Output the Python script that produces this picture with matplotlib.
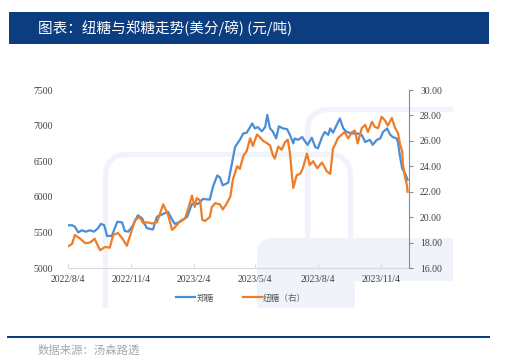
import matplotlib
matplotlib.use("Agg")
import matplotlib.pyplot as plt
from matplotlib.patches import Rectangle, FancyBboxPatch
from matplotlib.ticker import FormatStrFormatter
import pandas as pd

# ---------------- data ----------------
start_date = "2022-08-04"
zheng_days = [0, 6, 10, 15, 20, 26, 32, 38, 44, 48, 53, 57, 64, 72, 79, 83, 88, 95, 102, 108,
              115, 124, 130, 139, 146, 152, 156, 164, 174, 181, 190, 197, 207, 212, 218, 222,
              226, 234, 239, 244, 251, 256, 261, 269, 273, 277, 283, 288, 291, 295, 299, 304,
              308, 314, 320, 324, 329, 331, 336, 342, 346, 350, 356, 361, 365, 371, 375, 380,
              383, 387, 390, 397, 402, 407, 415, 422, 429, 434, 441, 445, 451, 456, 460, 466,
              470, 474, 480, 482, 485, 488, 492, 496]
zheng_vals = [5600, 5600, 5580, 5500, 5530, 5510, 5530, 5510, 5560, 5620, 5600, 5450, 5450, 5650,
              5640, 5520, 5510, 5600, 5740, 5700, 5560, 5540, 5720, 5760, 5790, 5680, 5620, 5650,
              5720, 5900, 5900, 5970, 5960, 6150, 6300, 6270, 6160, 6200, 6450, 6700, 6800, 6890,
              6900, 7030, 6960, 6980, 6920, 6980, 7150, 6960, 6920, 6820, 6990, 6960, 6950, 6870,
              6750, 6820, 6800, 6840, 6780, 6730, 6830, 6700, 6680, 6840, 6910, 6870, 6960, 6900,
              6960, 7100, 6960, 6910, 6890, 6890, 6870, 6770, 6800, 6730, 6800, 6820, 6910, 6960,
              6880, 6840, 6820, 6760, 6560, 6400, 6330, 6240]

niu_days = [0, 6, 10, 18, 25, 32, 39, 44, 47, 54, 61, 66, 73, 79, 86, 91, 98, 105, 110, 115,
            123, 130, 139, 146, 152, 156, 164, 171, 178, 181, 185, 188, 193, 196, 200, 207, 210,
            215, 222, 226, 231, 237, 241, 247, 251, 256, 261, 266, 270, 276, 280, 285, 291, 295,
            299, 302, 307, 312, 317, 321, 324, 327, 329, 334, 339, 343, 349, 353, 358, 364, 371,
            378, 383, 387, 390, 394, 400, 404, 409, 415, 419, 423, 429, 434, 438, 444, 448, 453,
            458, 463, 467, 473, 477, 482, 485, 488, 489, 492, 495, 496]
niu_vals = [17.7, 17.9, 18.6, 18.3, 17.95, 18.0, 18.3, 17.7, 17.4, 17.65, 17.6, 18.6, 18.75, 18.35,
            17.75, 18.6, 19.8, 20.0, 19.5, 19.6, 19.5, 19.6, 21.0, 20.2, 19.0, 19.2, 19.7, 19.9,
            21.1, 21.7, 20.8, 21.5, 21.3, 19.8, 19.7, 20.0, 20.8, 21.1, 21.0, 20.6, 21.0, 21.6,
            23.0, 24.0, 23.8, 24.8, 25.2, 26.2, 25.6, 26.5, 26.3, 26.0, 25.8, 25.65, 24.9, 24.6,
            25.55, 25.3, 25.9, 26.1, 25.1, 23.3, 22.3, 23.3, 23.4, 23.85, 25.0, 24.1, 24.4, 23.85,
            24.3, 23.6, 23.4, 25.4, 25.7, 26.2, 26.5, 26.7, 26.2, 26.7, 26.8, 25.8, 27.0, 27.25,
            26.7, 27.5, 27.1, 27.0, 27.9, 27.6, 27.2, 27.8, 27.1, 26.6, 25.7, 25.2, 24.2, 23.2,
            22.5, 22.0]

x_tick_labels = ["2022/8/4", "2022/11/4", "2023/2/4", "2023/5/4", "2023/8/4", "2023/11/4"]
left_ticks = [5000, 5500, 6000, 6500, 7000, 7500]
right_ticks = [16, 18, 20, 22, 24, 26, 28, 30]
series_names = ["郑糖", "纽糖（右）"]
title_text = "图表：纽糖与郑糖走势(美分/磅) (元/吨)"
source_text = "数据来源：汤森路透"

# ---------------- style ----------------
CJK = ["Noto Sans CJK SC", "DejaVu Sans"]
SERIF = ["Liberation Serif", "DejaVu Serif"]
BLUE = "#4a8fd6"
ORANGE = "#ef7c26"
NAVY = "#0b3d80"
WM = "#f0f4fa"

W, H = 510, 363
fig = plt.figure(figsize=(W / 100, H / 100), dpi=100)
fig.patch.set_facecolor("white")

# background layer in pixel coordinates
bg = fig.add_axes([0, 0, 1, 1], zorder=-1)
bg.set_xlim(0, W)
bg.set_ylim(H, 0)
bg.axis("off")

# title bar
bg.add_patch(Rectangle((9, 12), 480, 32, facecolor=NAVY, edgecolor="none"))
bg.text(38, 28.5, title_text, color="white", fontsize=10.5, family=CJK, va="center", ha="left")

# bottom rule and source
bg.add_patch(Rectangle((7, 335.5), 483, 2.5, facecolor=NAVY, edgecolor="none"))
bg.text(38, 350, source_text, color="#a8a8a8", fontsize=8.2, family=CJK, va="center", ha="left")

# watermark logo
clip = Rectangle((0, 0), 453, 308, transform=bg.transData, facecolor="none", edgecolor="none")
shapes = [
    FancyBboxPatch((105.5, 154.5), 245, 190, boxstyle="round,pad=0,rounding_size=22",
                   fill=False, edgecolor=WM, linewidth=3.8),
    FancyBboxPatch((307.5, 109.5), 190, 190, boxstyle="round,pad=0,rounding_size=22",
                   fill=False, edgecolor=WM, linewidth=3.8),
    FancyBboxPatch((257, 238), 230, 100, boxstyle="round,pad=0,rounding_size=16",
                   facecolor=WM, edgecolor="none"),
]
for s in shapes:
    bg.add_patch(s)
    s.set_clip_path(clip)
bg.add_patch(Rectangle((355, 281), 120, 40, facecolor="white", edgecolor="none"))

# ---------------- main chart ----------------
t0 = pd.Timestamp(start_date)
zx = t0 + pd.to_timedelta(zheng_days, unit="D")
nx = t0 + pd.to_timedelta(niu_days, unit="D")
tick_dates = pd.to_datetime(x_tick_labels, format="%Y/%m/%d")

ax = fig.add_axes([68 / W, 1 - 268 / H, (409 - 68) / W, 178 / H], zorder=1)
ax.patch.set_alpha(0)
ax2 = ax.twinx()
ax2.patch.set_alpha(0)

l1, = ax.plot(zx, zheng_vals, color=BLUE, linewidth=1.6, solid_joinstyle="round")
l2, = ax2.plot(nx, niu_vals, color=ORANGE, linewidth=1.6, solid_joinstyle="round")

ax.set_xlim(t0, t0 + pd.Timedelta(days=498))
ax.set_ylim(5000, 7500)
ax2.set_ylim(16, 30)
ax.set_yticks(left_ticks)
ax2.set_yticks(right_ticks)
ax2.yaxis.set_major_formatter(FormatStrFormatter("%.2f"))
ax.set_xticks(tick_dates)
ax.set_xticklabels(x_tick_labels)

for a in (ax, ax2):
    for sp in a.spines.values():
        sp.set_visible(False)
ax.spines["bottom"].set_visible(True)
ax.spines["bottom"].set_color("#d9d9d9")
ax.spines["bottom"].set_linewidth(0.8)
ax2.spines["right"].set_visible(True)
ax2.spines["right"].set_color("#8c8c8c")
ax2.spines["right"].set_linewidth(0.8)

ax.tick_params(axis="y", length=0, pad=11, labelsize=7, labelcolor="#404040")
ax.tick_params(axis="x", direction="in", length=3, color="#d9d9d9", pad=5,
               labelsize=7, labelcolor="#404040")
ax2.tick_params(axis="y", direction="out", length=3, color="#8c8c8c", width=0.8, pad=5,
                labelsize=7, labelcolor="#404040")
for lab in ax.get_xticklabels() + ax.get_yticklabels() + ax2.get_yticklabels():
    lab.set_family(SERIF)

leg = fig.legend([l1, l2], series_names, loc="center", bbox_to_anchor=(241 / W, 1 - 298 / H),
                 ncol=2, frameon=False, handlelength=2.2, handletextpad=0.1,
                 columnspacing=3.4, prop={"family": CJK, "size": 6.2})
for t in leg.get_texts():
    t.set_color("#595959")

fig.savefig("out.png", dpi=100)
